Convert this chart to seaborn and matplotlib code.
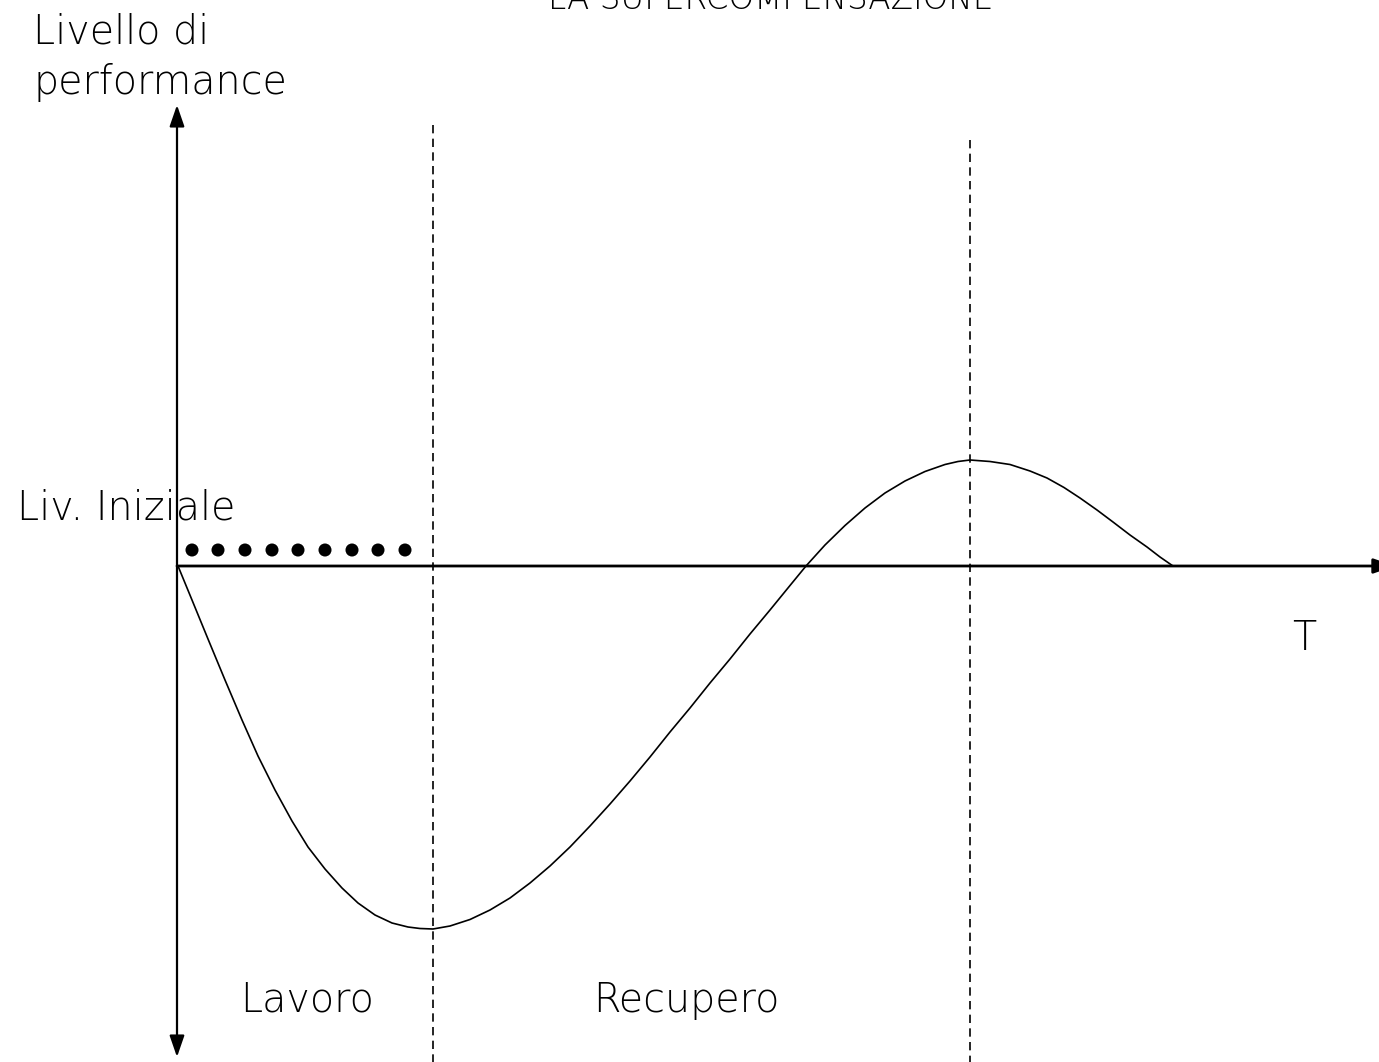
import matplotlib
matplotlib.use("Agg")
import matplotlib.pyplot as plt
import seaborn as sns
import pandas as pd

# ---- data (time units, performance relative to the initial level) ----
curve_t = [1, 15, 31, 48, 65, 81, 98, 115, 131, 148, 165, 181, 198, 215, 231, 243, 256,
           273, 293, 313, 333, 353, 373, 393, 413, 433, 453, 473, 493, 513, 533, 553,
           573, 593, 613, 629,
           648, 668, 688, 708, 728, 748, 768, 781, 793,
           813, 833, 853, 870, 887, 903, 920, 936, 953, 970, 983, 996, 1202]
curve_p = [0, -34, -73, -114, -154, -190, -224, -255, -281, -303, -322, -337, -349,
           -357, -361, -362.5, -363,
           -360, -353.5, -344, -332, -317, -300, -281, -260, -238, -215, -191, -166,
           -142, -117, -93, -68, -44, -19.5, 0,
           21, 40.5, 58, 73, 85, 94.5, 101.5, 104.5, 106,
           104.5, 101.5, 95, 88, 78.5, 68, 56, 44, 31, 19, 9, 0, 0]

dots_t = [15, 41, 68, 95, 121, 148, 175, 201, 228]
dots_p = [16, 16, 16, 16, 16, 16, 16, 16, 16]

phase_bounds = [256, 793]          # end of work, peak of supercompensation
phase_tops = [441, 426]

title = "LA SUPERCOMPENSAZIONE"
y_label = ["Livello di", "performance"]
x_label = "T"
init_label = "Liv. Iniziale"
phase_labels = ["Lavoro", "Recupero"]

# ---- figure ----
sns.set_style("white")
plt.rcParams["font.family"] = ["DejaVu Sans"]
fig = plt.figure(figsize=(13.79, 10.62), dpi=100)
ax = fig.add_axes([0, 0, 1, 1])
ax.set_xlim(-177, 1202)
ax.set_ylim(-496, 566)
ax.axis("off")

# axes with arrows
arrow = "-|>,head_length=1.3,head_width=0.45"
ax.annotate("", xy=(0, 461), xytext=(0, 0), annotation_clip=False,
            arrowprops=dict(arrowstyle=arrow, color="black", lw=1.6, shrinkA=0, shrinkB=0))
ax.annotate("", xy=(0, -491), xytext=(0, 0), annotation_clip=False,
            arrowprops=dict(arrowstyle=arrow, color="black", lw=1.6, shrinkA=0, shrinkB=0))
ax.annotate("", xy=(1218, 0), xytext=(0, 0), annotation_clip=False,
            arrowprops=dict(arrowstyle=arrow, color="black", lw=2.0, shrinkA=0, shrinkB=0))

# dashed phase lines
for t, top in zip(phase_bounds, phase_tops):
    ax.plot([t, t], [top, -496], color="black", lw=1.2, dashes=(5.0, 3.2))

# performance curve
df = pd.DataFrame({"t": curve_t, "p": curve_p})
sns.lineplot(data=df, x="t", y="p", ax=ax, color="black", lw=1.2, sort=False,
             estimator=None)
for line in ax.lines:
    line.set_solid_joinstyle("round")

# dotted initial level
sns.scatterplot(x=dots_t, y=dots_p, ax=ax, color="black", s=88, edgecolor="none")

fs = 28.5
kw = dict(fontsize=fs, fontweight="light", color="black", va="baseline")
ax.text(594, 557, title, ha="center", fontsize=23.5, fontweight="light",
        color="black", va="baseline")
ax.text(-144, 522, y_label[0], ha="left", **kw)
ax.text(-144, 472, y_label[1], ha="left", **kw)
ax.text(-160, 47, init_label, ha="left", **kw)
ax.text(1127, -84, x_label, ha="center", **kw)
ax.text(130, -446, phase_labels[0], ha="center", **kw)
ax.text(509, -446, phase_labels[1], ha="center", **kw)

ax.set_xlabel("")
ax.set_ylabel("")
fig.savefig("out.png", dpi=100)
